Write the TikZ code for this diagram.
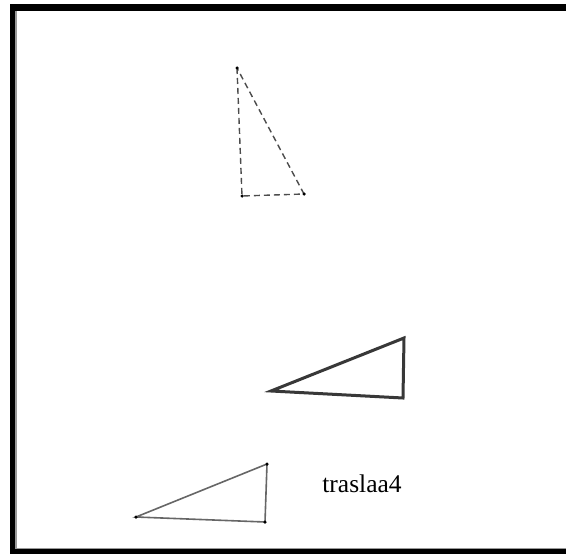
\documentclass[tikz,border=0pt]{standalone}
\usepackage{fontspec}
\setmainfont{Liberation Serif}
\begin{document}
\begin{tikzpicture}[x=1pt,y=-1pt,
  vdot/.style={circle,fill=black,inner sep=0pt,minimum size=3.5pt},
  dashtri/.style={draw=black!70,line width=1.4pt,dash pattern=on 6pt off 4pt},
  boldtri/.style={draw=black!78,line width=3pt,line join=miter},
  thintri/.style={draw=black!60,line width=1.6pt},
  framebar/.style={fill=black},
  frameshade/.style={fill=black!40}]
\useasboundingbox (0,0) rectangle (566,554);
\fill[white] (0,0) rectangle (566,554);
% frame
\fill[framebar] (10,4) rectangle (566,11);
\fill[framebar] (10,4) rectangle (15,554);
\fill[framebar] (10,549) rectangle (566,554);
\fill[frameshade] (15,11) rectangle (16.5,548);
\fill[frameshade] (15,547.5) rectangle (566,549);
% dashed triangle
\coordinate (a1) at (237,68);
\coordinate (b1) at (242,196);
\coordinate (c1) at (304,194);
\draw[dashtri] (a1) -- (b1) -- (c1) -- cycle;
\foreach \p in {a1,b1,c1} \node[vdot] at (\p) {};
% bold triangle
\coordinate (a2) at (271,391);
\coordinate (b2) at (404,338);
\coordinate (c2) at (403,398);
\draw[boldtri] (a2) -- (b2) -- (c2) -- cycle;
% small triangle
\coordinate (a3) at (136,517);
\coordinate (b3) at (267,464);
\coordinate (c3) at (265,522);
\draw[thintri] (a3) -- (b3) -- (c3) -- cycle;
\foreach \p in {a3,b3,c3} \node[vdot] at (\p) {};
% label
\node[inner sep=0pt] (lbl) at (362,484) {\fontsize{25.5}{30}\selectfont traslaa4};
\end{tikzpicture}
\end{document}
